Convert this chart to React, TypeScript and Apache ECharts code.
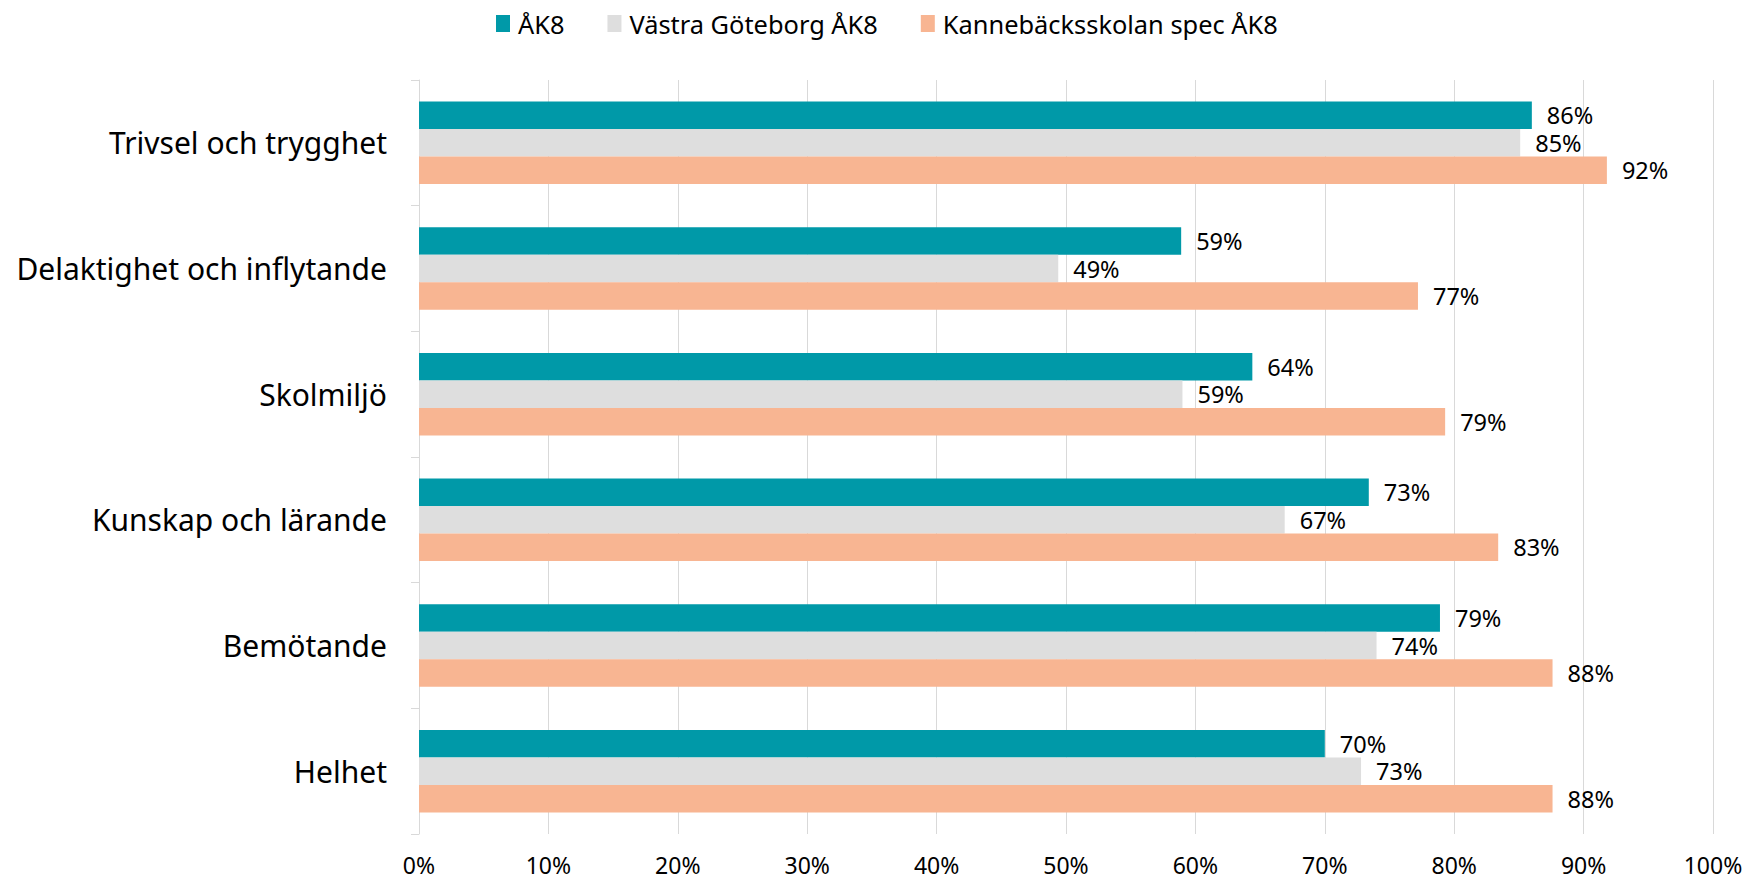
import React, { useEffect, useRef } from "react";
import * as echarts from "echarts";

const categories = [
  "Trivsel och trygghet",
  "Delaktighet och inflytande",
  "Skolmiljö",
  "Kunskap och lärande",
  "Bemötande",
  "Helhet",
];
const seriesNames = ["ÅK8", "Västra Göteborg ÅK8", "Kannebäcksskolan spec ÅK8"];
const ak8 = [86.0, 58.9, 64.4, 73.4, 78.9, 70.0];
const vastraGoteborg = [85.1, 49.4, 59.0, 66.9, 74.0, 72.8];
const kannebacks = [91.8, 77.2, 79.3, 83.4, 87.6, 87.6];
const xTicks = [0, 10, 20, 30, 40, 50, 60, 70, 80, 90, 100];

const colors = ["#0099a8", "#dedede", "#f8b592"];
const FONT = "'Noto Sans', 'Open Sans', sans-serif";

export default function App() {
  const ref = useRef<HTMLDivElement>(null);
  useEffect(() => {
    if (!ref.current) return;
    const chart = echarts.init(ref.current, null, { renderer: "svg" });
    const mk = (name: string, data: number[], color: string) => ({
      name,
      type: "bar",
      data,
      barWidth: 27.5,
      barGap: "0%",
      itemStyle: { color },
      label: {
        show: true,
        position: "right",
        distance: 15,
        formatter: (p: any) => Math.round(p.value) + "%",
        fontFamily: FONT,
        fontSize: 23.5,
        lineHeight: 22,
        color: "#000",
      },
    });
    chart.setOption({
      animation: false,
      textStyle: { fontFamily: FONT },
      legend: {
        top: 6,
        left: 491,
        itemWidth: 14,
        itemHeight: 17,
        itemGap: 43,
        icon: "rect",
        textStyle: { fontFamily: FONT, fontSize: 25.4, color: "#000", padding: [0, 0, 0, 3] },
        data: seriesNames,
      },
      grid: { left: 419, right: 35, top: 80, bottom: 45, containLabel: false },
      xAxis: {
        type: "value",
        min: xTicks[0],
        max: xTicks[xTicks.length - 1],
        interval: 10,
        axisLine: { show: false },
        axisTick: { show: false },
        splitLine: { show: true, lineStyle: { color: "#d9d9d9", width: 1 } },
        axisLabel: {
          formatter: (v: number) => v + "%",
          fontFamily: FONT,
          fontSize: 23,
          lineHeight: 23,
          color: "#000",
          margin: 19,
        },
      },
      yAxis: {
        type: "category",
        data: categories,
        inverse: true,
        axisLine: { show: true, lineStyle: { color: "#d9d9d9", width: 1 } },
        axisTick: { show: true, length: 8, lineStyle: { color: "#d9d9d9" } },
        axisLabel: { fontFamily: FONT, fontSize: 30, color: "#000", margin: 32 },
      },
      series: [
        mk(seriesNames[0], ak8, colors[0]),
        mk(seriesNames[1], vastraGoteborg, colors[1]),
        mk(seriesNames[2], kannebacks, colors[2]),
      ],
    });
    return () => chart.dispose();
  }, []);
  return (
    <div
      ref={ref}
      style={{ position: "fixed", left: 0, top: 0, width: 1748, height: 879, background: "#fff" }}
    />
  );
}
